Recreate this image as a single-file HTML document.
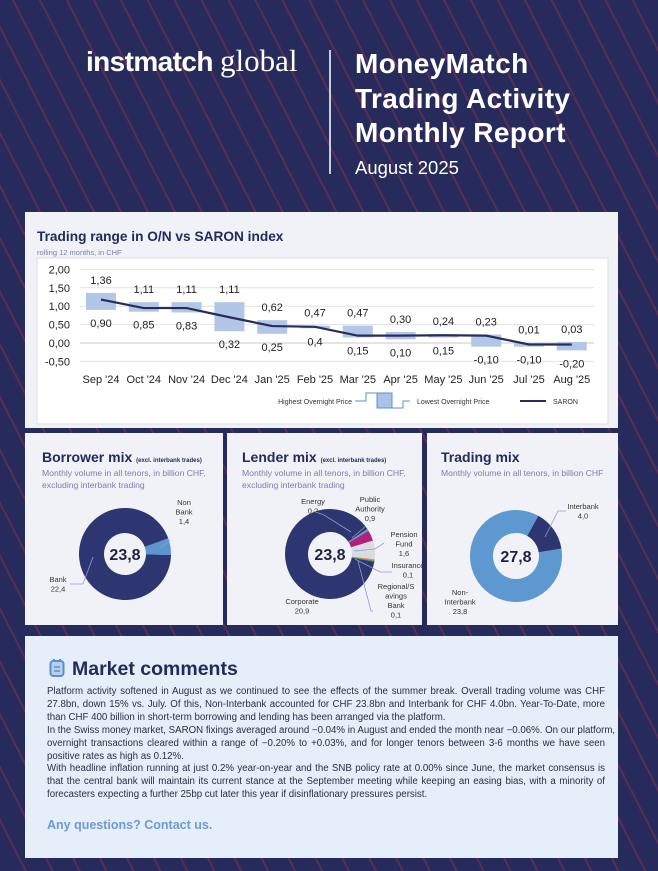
<!DOCTYPE html>
<html><head><meta charset="utf-8">
<style>
*{margin:0;padding:0;box-sizing:border-box}
body{width:658px;height:871px;overflow:hidden;font-family:"Liberation Sans",sans-serif;background:#272b5c;position:relative}
.bg{position:absolute;left:0;top:0;width:658px;height:871px;background:repeating-linear-gradient(63deg,transparent 0 22px,rgba(150,50,80,.45) 22px 24px)}
.card{position:absolute;background:#f1f2f7}
.abs{position:absolute;white-space:nowrap}
.ct{font-weight:bold;color:#232a5e}
.sub{color:#7a7fa6;font-size:8.6px;line-height:12px}
.mc p{display:block;text-align:justify;text-align-last:justify;white-space:nowrap;font-size:9.7px;line-height:12.9px;color:#2a2d45}
.mc p.l{text-align-last:left}
</style></head><body>
<div class="bg"></div>

<div class="abs" style="left:86px;top:43px;color:#fff;font-size:28px;line-height:36px;letter-spacing:-0.6px"><b>instmatch</b> <span style="font-family:'Liberation Serif',serif;font-size:31px;letter-spacing:0">global</span></div>
<div class="abs" style="left:329px;top:50px;width:1.5px;height:124px;background:#c9cbe0"></div>
<div class="abs" style="left:355px;top:47px;color:#fff;font-weight:bold;font-size:28px;line-height:34.5px;letter-spacing:0.4px">MoneyMatch<br>Trading Activity<br>Monthly Report</div>
<div class="abs" style="left:355px;top:157px;color:#fff;font-size:18.5px">August 2025</div>

<div class="card" style="left:25px;top:212px;width:593px;height:216px"></div>
<div class="abs ct" style="left:37px;top:229px;font-size:13.7px">Trading range in O/N vs SARON index</div>
<div class="abs sub" style="left:37px;top:247px;font-size:7.5px">rolling 12 months, in CHF</div>
<svg id="rc" class="abs" style="left:0;top:0" width="658" height="440"></svg>

<div class="card" style="left:25px;top:433px;width:198px;height:192px"></div>
<div class="card" style="left:227px;top:433px;width:195px;height:192px"></div>
<div class="card" style="left:427px;top:433px;width:191px;height:192px"></div>
<div class="abs ct" style="left:42px;top:449px;font-size:14px">Borrower mix <span style="font-size:6px">(excl. interbank trades)</span></div>
<div class="abs sub" style="left:42px;top:467px">Monthly volume in all tenors, in billion CHF,<br>excluding interbank trading</div>
<div class="abs ct" style="left:242px;top:449px;font-size:14px">Lender mix <span style="font-size:6px">(excl. interbank trades)</span></div>
<div class="abs sub" style="left:242px;top:467px">Monthly volume in all tenors, in billion CHF,<br>excluding interbank trading</div>
<div class="abs ct" style="left:441px;top:449px;font-size:14px">Trading mix</div>
<div class="abs sub" style="left:441px;top:467px">Monthly volume in all tenors, in billion CHF</div>
<svg id="dc" class="abs" style="left:0;top:0" width="658" height="640"></svg>

<div class="card mc" style="left:25px;top:636px;width:593px;height:222px;background:#e6eef9">
<svg class="abs" style="left:24px;top:22px" width="16" height="20"><rect x="1.5" y="3" width="13" height="15" rx="3" fill="#b9d0ec" stroke="#5b8fcc" stroke-width="2"/><line x1="5" y1="1" x2="5" y2="4" stroke="#5b8fcc" stroke-width="2"/><line x1="11" y1="1" x2="11" y2="4" stroke="#5b8fcc" stroke-width="2"/><line x1="5" y1="9" x2="11" y2="9" stroke="#5b8fcc" stroke-width="1.5"/><line x1="5" y1="13" x2="11" y2="13" stroke="#5b8fcc" stroke-width="1.5"/></svg>
<div class="abs ct" style="left:47px;top:22px;font-size:19.5px">Market comments</div>
<div class="abs" style="left:22px;top:50px;width:558px">
<p>Platform activity softened in August as we continued to see the effects of the summer break. Overall trading volume was CHF</p>
<p>27.8bn, down 15% vs. July. Of this, Non-Interbank accounted for CHF 23.8bn and Interbank for CHF 4.0bn. Year-To-Date, more</p>
<p class="l">than CHF 400 billion in short-term borrowing and lending has been arranged via the platform.</p>
<p>In the Swiss money market, SARON fixings averaged around −0.04% in August and ended the month near −0.06%. On our platform,</p>
<p>overnight transactions cleared within a range of −0.20% to +0.03%, and for longer tenors between 3-6 months we have seen</p>
<p class="l">positive rates as high as 0.12%.</p>
<p>With headline inflation running at just 0.2% year-on-year and the SNB policy rate at 0.00% since June, the market consensus is</p>
<p>that the central bank will maintain its current stance at the September meeting while keeping an easing bias, with a minority of</p>
<p class="l">forecasters expecting a further 25bp cut later this year if disinflationary pressures persist.</p>
</div>
<div class="abs" style="left:22px;top:182px;font-size:12.5px;font-weight:bold;color:#6a9bd3">Any questions? Contact us.</div>
</div>

<script>
const months=["Sep '24","Oct '24","Nov '24","Dec '24","Jan '25","Feb '25","Mar '25","Apr '25","May '25","Jun '25","Jul '25","Aug '25"];
const highs=[1.36,1.11,1.11,1.11,0.62,0.47,0.47,0.30,0.24,0.23,0.01,0.03];
const lows=[0.90,0.85,0.83,0.32,0.25,0.40,0.15,0.10,0.15,-0.10,-0.10,-0.20];
const highLabels=["1,36","1,11","1,11","1,11","0,62","0,47","0,47","0,30","0,24","0,23","0,01","0,03"];
const lowLabels=["0,90","0,85","0,83","0,32","0,25","0,4","0,15","0,10","0,15","-0,10","-0,10","-0,20"];
const saron=[1.18,0.95,0.95,0.70,0.46,0.44,0.20,0.20,0.21,0.20,-0.04,-0.04];
const yTicks=[2,1.5,1,0.5,0,-0.5];
const yTickLabels=["2,00","1,50","1,00","0,50","0,00","-0,50"];

const NS="http://www.w3.org/2000/svg";
function mk(p,t,a,txt){const e=document.createElementNS(NS,t);for(const k in a)e.setAttribute(k,a[k]);if(txt!==undefined)e.textContent=txt;p.appendChild(e);return e;}
const rc=document.getElementById('rc');
const yS=v=>343-v*36.8;
const xS=i=>101+i*42.8;
let box=mk(rc,'rect',{x:37,y:258,width:571,height:166,fill:'#fff',stroke:'#dcdde3'});


yTicks.forEach((t,i)=>{
  let g=mk(rc,'line',{x1:80,x2:594,y1:yS(t),y2:yS(t),stroke:t===0?'#c8c8c8':'#e2e2e2','stroke-width':1});
  
  
  let l=mk(rc,'text',{x:70,y:yS(t)+4,'text-anchor':'end','font-size':11,fill:'#222','font-family':'Liberation Sans'},yTickLabels[i]);
  
  
});
months.forEach((m,i)=>{
  let b=mk(rc,'rect',{x:xS(i)-15,y:yS(highs[i]),width:30,height:yS(lows[i])-yS(highs[i]),fill:'#b2c6e8'});
  
  
  let h=mk(rc,'text',{x:xS(i),y:yS(highs[i])-9,'text-anchor':'middle','font-size':11,fill:'#222','font-family':'Liberation Sans'},highLabels[i]);
  
  
  let lo=mk(rc,'text',{x:xS(i),y:yS(lows[i])+17,'text-anchor':'middle','font-size':11,fill:'#222','font-family':'Liberation Sans'},lowLabels[i]);
  
  
  let c=mk(rc,'text',{x:xS(i),y:383,'text-anchor':'middle','font-size':11,fill:'#222','font-family':'Liberation Sans'},m);
  
  
});
let ln=mk(rc,'polyline',{points:saron.map((v,i)=>xS(i)+','+yS(v)).join(' '),fill:'none',stroke:'#262c5e','stroke-width':2.2});


let lg=mk(rc,'g',{});


mk(lg,'text',{x:352,y:404,'text-anchor':'end','font-size':7,fill:'#333','font-family':'Liberation Sans'},'Highest Overnight Price');
mk(lg,'polyline',{points:'355,401 366,401 366,393 377,393',fill:'none',stroke:'#5b8fcc'});
mk(lg,'rect',{x:377,y:393,width:15,height:15,fill:'#a9c3e6',stroke:'#5b8fcc'});
mk(lg,'polyline',{points:'392,408 403,408 403,401 410,401',fill:'none',stroke:'#5b8fcc'});
mk(lg,'text',{x:417,y:404,'font-size':7,fill:'#333','font-family':'Liberation Sans'},'Lowest Overnight Price');
mk(lg,'line',{x1:520,x2:546,y1:401,y2:401,stroke:'#262c5e','stroke-width':2});
mk(lg,'text',{x:553,y:404,'font-size':7,fill:'#333','font-family':'Liberation Sans'},'SARON');

const borrowerLabels=["Non Bank","Bank"];
const borrowerValues=[1.4,22.4];
const lenderLabels=["Energy","Public Authority","Pension Fund","Insurance","Regional/Savings Bank","Corporate"];
const lenderValues=[0.2,0.9,1.6,0.1,0.1,20.9];
const tradingLabels=["Interbank","Non-Interbank"];
const tradingValues=[4.0,23.8];
const dc=document.getElementById('dc');
function arc(cx,cy,r0,r1,a0,a1){
  const p=(r,a)=>[cx+r*Math.sin(a),cy-r*Math.cos(a)];
  const lg=(a1-a0)>Math.PI?1:0;
  const [x1,y1]=p(r1,a0),[x2,y2]=p(r1,a1),[x3,y3]=p(r0,a1),[x4,y4]=p(r0,a0);
  return `M${x1},${y1}A${r1},${r1} 0 ${lg} 1 ${x2},${y2}L${x3},${y3}A${r0},${r0} 0 ${lg} 0 ${x4},${y4}Z`;
}
function donut(cx,cy,r0,r1,vals,cols,start,total,name){
  const sum=vals.reduce((a,b)=>a+b,0);let a=start*Math.PI/180;
  vals.forEach((v,i)=>{const d=v/sum*2*Math.PI;
    let s=mk(dc,'path',{d:arc(cx,cy,r0,r1,a,a+d),fill:cols[i]});
    
    
    a+=d;});
  let t=mk(dc,'text',{x:cx,y:cy+6,'text-anchor':'middle','font-size':16,'font-weight':'bold',fill:'#1f2340','font-family':'Liberation Sans'},total);
  
  
}
donut(125,554,21,46,borrowerValues,['#5b96cf','#2d3670'],70,'23,8','borrower');
donut(330,554,22,45,lenderValues,['#5b96cf','#b3207a','#d9dce2','#e08a30','#4a9a5a','#2d3670'],56,'23,8','lender');
donut(516,556,23,46,tradingValues,['#2d3670','#5e98d0'],29,'27,8','trading');
function lab(x,y,lines,anchor){
  let t=mk(dc,'text',{'font-size':7.5,fill:'#333','font-family':'Liberation Sans','text-anchor':anchor||'middle'});
  
  
  lines.forEach((l,i)=>mk(t,'tspan',{x:x,y:y+i*9.5},l));
}
function ldr(pts){let l=mk(dc,'polyline',{points:pts,fill:'none',stroke:'#8f9bd0','stroke-width':0.8});
  
  }
lab(184,505,['Non','Bank','1,4']);ldr('170,540 160,548');
lab(58,582,['Bank','22,4']);ldr('70,584 83,584 93,557');
lab(313,504,['Energy','0,2']);ldr('313,511 324,515 351,532');
lab(370,502,['Public','Authority','0,9']);ldr('366,526 352,538');
lab(404,537,['Pension','Fund','1,6']);ldr('384,543 375,549 354,551');
lab(408,568,['Insurance','0,1']);ldr('392,572 380,572 355,559');
lab(396,589,['Regional/S','avings','Bank','0,1']);ldr('373,611 371,611 358,561');
lab(302,604,['Corporate','20,9']);
lab(583,509,['Interbank','4,0']);ldr('566,511 558,511 545,537');
lab(460,595,['Non-','Interbank','23,8']);
</script>
</body></html>
